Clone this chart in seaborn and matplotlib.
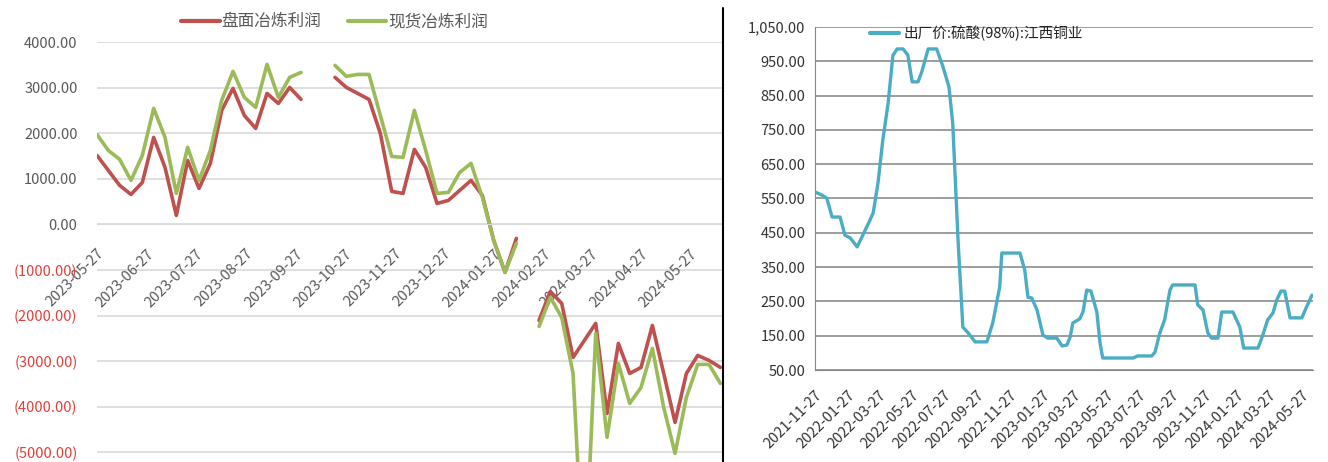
import pandas as pd
import numpy as np
import seaborn as sns
import matplotlib.pyplot as plt
from matplotlib.lines import Line2D

sns.set_style("white")
plt.rcParams['font.family'] = ['Noto Sans CJK SC', 'DejaVu Sans']
plt.rcParams['axes.unicode_minus'] = False

# ---- 左图: 冶炼利润 (周度) ----
week_start = "2023-05-27"
pan_profit = [1513, 1184, 855, 657, 921, 1908, 1250, 197, 1403, 789, 1338, 2500, 2982, 2390, 2105, 2873, 2653, 3004, 2741,
              np.nan, np.nan,
              3224, 3004, 2873, 2741, 1996, 724, 680, 1645, 1250, 460, 526, 746, 965, 636, -350, -1053, -307,
              np.nan,
              -2105, -1470, -1732, -2917, -2544, -2171, -4145, -2610, -3268, -3136, -2215, -3268, -4342, -3268, -2873, -2982, -3136]
spot_profit = [1970, 1623, 1425, 965, 1513, 2544, 1908, 680, 1689, 965, 1623, 2719, 3355, 2785, 2566, 3509, 2785, 3224, 3333,
               np.nan, np.nan,
               3487, 3246, 3289, 3289, 2390, 1491, 1469, 2500, 1623, 680, 702, 1140, 1338, 592, -350, -1053, -417,
               np.nan,
               -2237, -1600, -2039, -3268, -8000, -2390, -4671, -3048, -3925, -3575, -2719, -4013, -5022, -3794, -3070, -3070, -3487]
left_names = ["盘面冶炼利润", "现货冶炼利润"]
left_colors = ["#C0504D", "#9BBB59"]
left_yticks = [4000, 3000, 2000, 1000, 0, -1000, -2000, -3000, -4000, -5000]

# ---- 右图: 硫酸出厂价 ----
acid_dates = ["2021-11-27", "2021-12-10", "2021-12-19", "2021-12-29", "2022-01-13", "2022-01-22", "2022-02-01",
              "2022-02-14", "2022-02-23", "2022-03-10", "2022-03-16", "2022-03-25", "2022-04-03", "2022-04-13",
              "2022-04-22", "2022-04-30", "2022-05-11", "2022-05-20", "2022-05-28", "2022-06-08", "2022-06-15",
              "2022-06-27", "2022-07-13", "2022-07-25", "2022-08-05", "2022-08-12", "2022-08-22", "2022-08-31",
              "2022-09-10", "2022-09-23", "2022-10-15", "2022-10-26", "2022-11-08", "2022-11-12", "2022-12-16",
              "2022-12-25", "2022-12-31", "2023-01-07", "2023-01-17", "2023-01-28", "2023-02-06", "2023-02-23",
              "2023-03-05", "2023-03-14", "2023-03-20", "2023-03-25", "2023-04-07", "2023-04-13", "2023-04-20",
              "2023-04-28", "2023-05-09", "2023-05-15", "2023-05-20", "2023-07-16", "2023-07-25", "2023-08-20",
              "2023-08-26", "2023-09-04", "2023-09-13", "2023-09-23", "2023-09-28", "2023-11-09", "2023-11-14",
              "2023-11-24", "2023-12-03", "2023-12-10", "2023-12-22", "2023-12-29", "2024-01-19", "2024-02-01",
              "2024-02-08", "2024-03-06", "2024-03-15", "2024-03-24", "2024-04-03", "2024-04-10", "2024-04-18",
              "2024-04-25", "2024-05-05", "2024-05-27", "2024-06-05", "2024-06-15"]
acid_price = [569, 560, 551, 496, 496, 443, 435,
              409, 438, 487, 508, 595, 720, 828,
              968, 986, 986, 968, 890, 890, 919,
              986, 986, 933, 875, 770, 429, 175,
              158, 132, 132, 187, 292, 391, 391,
              341, 262, 260, 225, 152, 143, 143,
              120, 123, 146, 187, 199, 219, 283,
              280, 219, 129, 85, 85, 91, 91,
              102, 158, 196, 283, 298, 298, 240,
              225, 158, 143, 143, 219, 219, 175,
              114, 114, 152, 196, 216, 254, 280,
              280, 202, 202, 234, 268]
acid_name = "出厂价:硫酸(98%):江西铜业"
right_yticks = [50, 150, 250, 350, 450, 550, 650, 750, 850, 950, 1050]

# 组装长表, 按缺口拆段
dates = pd.date_range(week_start, periods=len(pan_profit), freq="7D")
frames = []
for name, vals in zip(left_names, [pan_profit, spot_profit]):
    s = pd.Series(vals, dtype=float)
    d = pd.DataFrame({"date": dates, "value": s, "series": name, "seg": s.isna().cumsum()})
    frames.append(d.dropna())
df_left = pd.concat(frames, ignore_index=True)

df_right = pd.DataFrame({"date": pd.to_datetime(acid_dates), "price": acid_price})

W, H = 1328, 462
fig = plt.figure(figsize=(W / 100, H / 100), dpi=100)
ax1 = fig.add_axes([97 / W, 0, 625 / W, 420 / H])
ax2 = fig.add_axes([815 / W, 1 - 370 / H, 498 / W, 343 / H])

# 左图
sns.lineplot(data=df_left, x="date", y="value", hue="series", units="seg", estimator=None,
             hue_order=left_names, palette=dict(zip(left_names, left_colors)),
             lw=2.6, legend=False, ax=ax1)
# 先放 x 轴到 0 位置 (set_position 会重置刻度)
for sp in ["top", "right", "left"]:
    ax1.spines[sp].set_visible(False)
ax1.spines["bottom"].set_position(("data", 0))
ax1.spines["bottom"].set_color("#D9D9D9")
ax1.set_ylim(-5210, 4000)
ax1.set_xlim(pd.Timestamp("2023-05-27"), pd.Timestamp("2024-06-16"))
ax1.set_xlabel("")
ax1.set_ylabel("")
for v in left_yticks:
    ax1.axhline(v, color="#D9D9D9", lw=1.2, zorder=0)
ylabels = [f"{v:.2f}" if v >= 0 else f"({-v:.2f})" for v in left_yticks]
ax1.set_yticks(left_yticks, labels=ylabels)
for lbl, v in zip(ax1.get_yticklabels(), left_yticks):
    lbl.set_color("#595959" if v >= 0 else "#E0403A")
ax1.tick_params(axis="y", length=0, pad=14, labelsize=10.5)
lticks = pd.date_range("2023-05-27", "2024-05-27", freq=pd.DateOffset(months=1))
ax1.set_xticks(lticks, labels=[t.strftime("%Y-%m-%d") for t in lticks])
ax1.tick_params(axis="x", length=6, color="#D9D9D9", direction="out", pad=10,
                labelsize=10.5, labelcolor="#595959", labelrotation=45)
for lbl in ax1.get_xticklabels():
    lbl.set_ha("right")
    lbl.set_rotation_mode("anchor")
handles = [Line2D([], [], color=c, lw=3) for c in left_colors]
ax1.legend(handles, left_names, loc="center", bbox_to_anchor=(0.38, 1.048), ncol=2, frameon=False,
           fontsize=12, handlelength=2.3, handletextpad=0.1, columnspacing=1.6, labelcolor="#595959",
           borderaxespad=0, borderpad=0)

# 分隔线
fig.add_artist(Line2D([723 / W, 723 / W], [0, 1 - 8 / H], color="black", lw=1.5))

# 右图
sns.lineplot(data=df_right, x="date", y="price", color="#4BACC6", lw=2.4, ax=ax2)
ax2.set_ylim(50, 1050)
ax2.set_xlim(pd.Timestamp("2021-11-27"), pd.Timestamp("2024-06-17"))
ax2.set_xlabel("")
ax2.set_ylabel("")
ax2.set_yticks(right_yticks, labels=[f"{v:,.2f}" for v in right_yticks])
ax2.grid(axis="y", color="#8C8C8C", lw=1.2)
ax2.set_axisbelow(True)
ax2.tick_params(axis="y", length=4, color="#868686", direction="out", pad=3,
                labelsize=10.5, labelcolor="#333333")
rticks = pd.date_range("2021-11-27", "2024-05-27", freq=pd.DateOffset(months=2))
ax2.set_xticks(rticks, labels=[t.strftime("%Y-%m-%d") for t in rticks])
ax2.tick_params(axis="x", length=5, color="#868686", direction="out", pad=8,
                labelsize=10.5, labelcolor="#333333", labelrotation=45)
for lbl in ax2.get_xticklabels():
    lbl.set_ha("right")
    lbl.set_rotation_mode("anchor")
for sp in ["top", "right"]:
    ax2.spines[sp].set_visible(False)
ax2.spines["left"].set_color("#868686")
ax2.spines["bottom"].set_color("#868686")
ax2.legend([Line2D([], [], color="#4BACC6", lw=3)], [acid_name], loc="center left",
           bbox_to_anchor=(0.11, 0.982), frameon=False, fontsize=10.5, handlelength=2.0,
           handletextpad=0.3, borderaxespad=0, borderpad=0, labelcolor="#222222")

fig.savefig("out.png", dpi=100)
